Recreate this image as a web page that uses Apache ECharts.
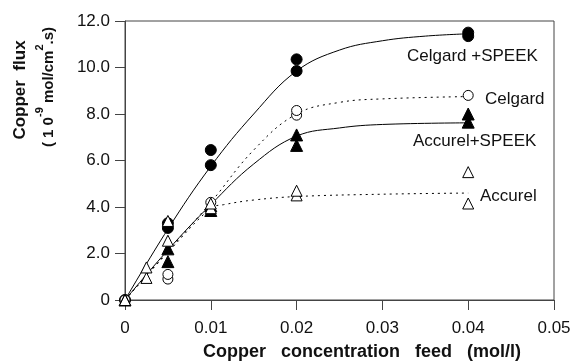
<!DOCTYPE html>
<html>
<head>
<meta charset="utf-8">
<script src="https://cdn.jsdelivr.net/npm/echarts@6/dist/echarts.min.js"></script>
<style>
  html, body { margin: 0; padding: 0; background: #fff; }
  #chart { width: 576px; height: 361px; }
</style>
</head>
<body>
<div id="chart"></div>
<script>
// measured points [feed (mol/l), flux]
const celgardSpeek = [[0, 0], [0.005, 3.1], [0.005, 3.3], [0.01, 5.8], [0.01, 6.45], [0.02, 9.85], [0.02, 10.35], [0.04, 11.35], [0.04, 11.5]];
const celgard = [[0, 0], [0.005, 0.9], [0.005, 1.1], [0.01, 4.2], [0.02, 7.95], [0.02, 8.15], [0.04, 8.8]];
const accurelSpeek = [[0, 0], [0.005, 1.65], [0.005, 2.2], [0.01, 3.85], [0.01, 4.05], [0.02, 6.65], [0.02, 7.1], [0.04, 7.65], [0.04, 8.0]];
const accurel = [[0, 0], [0.0025, 0.95], [0.0025, 1.4], [0.005, 2.55], [0.005, 3.4], [0.01, 3.95], [0.01, 4.15], [0.02, 4.5], [0.02, 4.7], [0.04, 4.15], [0.04, 5.5]];

// fitted curves
const fitCelgardSpeek = [[0, 0], [0.005, 3.05], [0.01, 5.75], [0.015, 8.0], [0.02, 9.85], [0.025, 10.75], [0.03, 11.15], [0.035, 11.35], [0.04, 11.45]];
const fitCelgard = [[0, 0], [0.005, 2.1], [0.01, 4.2], [0.015, 6.45], [0.02, 8.0], [0.025, 8.5], [0.03, 8.65], [0.04, 8.75]];
const fitAccurelSpeek = [[0, 0], [0.005, 2.15], [0.01, 4.1], [0.015, 5.85], [0.02, 7.05], [0.025, 7.4], [0.03, 7.55], [0.04, 7.62]];
const fitAccurel = [[0, 0], [0.005, 2.05], [0.01, 3.95], [0.0115, 4.1], [0.015, 4.3], [0.02, 4.45], [0.03, 4.55], [0.04, 4.6]];

const xTicks = [0, 0.01, 0.02, 0.03, 0.04, 0.05];
const yTicks = [0, 2, 4, 6, 8, 10, 12];

const FONT = 'Liberation Sans, Arial, sans-serif';
const chart = echarts.init(document.getElementById('chart'));

function points(name, data, symbol, filled, size) {
  return {
    name: name, type: 'scatter', data: data, symbol: symbol, symbolSize: size, z: 5,
    itemStyle: { color: filled ? '#000' : '#fff', borderColor: '#000', borderWidth: 1, opacity: 1 }
  };
}
function curve(data, dashed) {
  return {
    type: 'line', data: data, smooth: 0.4, showSymbol: false, silent: true, z: 3,
    lineStyle: { color: '#000', width: 1, type: dashed ? [2, 4] : 'solid' }
  };
}

chart.setOption({
  animation: false,
  grid: { left: 125, right: 22, top: 21, bottom: 61, show: true, borderColor: '#444', borderWidth: 1 },
  xAxis: {
    type: 'value', min: xTicks[0], max: xTicks[xTicks.length - 1], interval: 0.01,
    axisLine: { lineStyle: { color: '#444' } },
    axisTick: { show: true, length: 10, lineStyle: { color: '#444' } },
    splitLine: { show: false },
    axisLabel: { color: '#111', fontSize: 17, fontFamily: FONT, margin: 20,
      formatter: v => v === 0 ? '0' : v.toFixed(2) }
  },
  yAxis: {
    type: 'value', min: yTicks[0], max: yTicks[yTicks.length - 1], interval: 2,
    axisLine: { show: true, lineStyle: { color: '#444' } },
    axisTick: { show: true, length: 10, lineStyle: { color: '#444' } },
    splitLine: { show: false },
    axisLabel: { color: '#111', fontSize: 17, fontFamily: FONT, margin: 15,
      formatter: v => v === 0 ? '0' : v.toFixed(1) }
  },
  series: [
    curve(fitCelgardSpeek, false),
    curve(fitCelgard, true),
    curve(fitAccurelSpeek, false),
    curve(fitAccurel, true),
    points('Celgard +SPEEK', celgardSpeek, 'circle', true, 11),
    points('Celgard', celgard, 'circle', false, 10),
    points('Accurel+SPEEK', accurelSpeek, 'triangle', true, 12),
    points('Accurel', accurel, 'triangle', false, 11)
  ],
  graphic: [
    { type: 'text', left: 407, top: 48, style: { text: 'Celgard +SPEEK', font: '17px ' + FONT, fill: '#111' } },
    { type: 'text', left: 485, top: 91, style: { text: 'Celgard', font: '17px ' + FONT, fill: '#111' } },
    { type: 'text', left: 413, top: 133, style: { text: 'Accurel+SPEEK', font: '17px ' + FONT, fill: '#111' } },
    { type: 'text', left: 480, top: 188, style: { text: 'Accurel', font: '17px ' + FONT, fill: '#111' } },
    { type: 'text', x: 20, y: 90, rotation: Math.PI / 2,
      style: { text: 'Copper  flux', font: 'bold 17px ' + FONT, fill: '#111', align: 'center', verticalAlign: 'middle' } },
    { type: 'text', x: 45, y: 87, rotation: Math.PI / 2,
      style: {
        text: '{n|( 1 0}{s|-9}{n| mol/cm}{s|2}{n|.s)}', align: 'center', verticalAlign: 'middle', fill: '#111',
        rich: {
          n: { font: 'bold 15px ' + FONT, fill: '#111', lineHeight: 22, verticalAlign: 'bottom' },
          s: { font: 'bold 11px ' + FONT, fill: '#111', lineHeight: 22, verticalAlign: 'top' }
        }
      } },
    { type: 'text', left: 203, top: 343, style: { text: 'Copper   concentration   feed   (mol/l)', font: 'bold 18px ' + FONT, fill: '#111' } }
  ]
});
</script>
</body>
</html>
